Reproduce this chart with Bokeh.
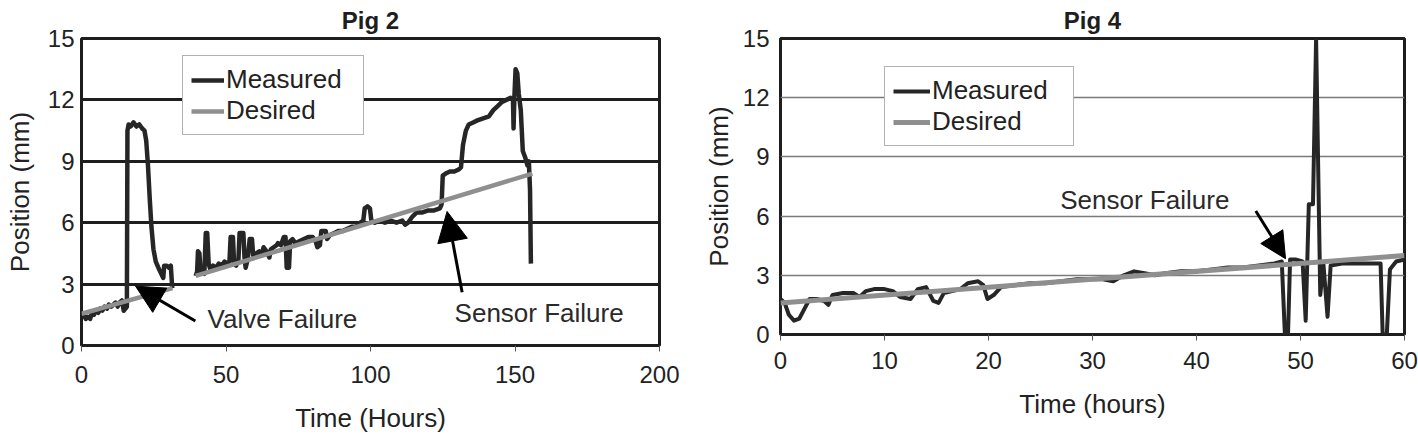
from bokeh.plotting import figure
from bokeh.models import FixedTicker, Legend, LegendItem, Label, Arrow, NormalHead, Title
from bokeh.layouts import row
from bokeh.embed import file_html
from bokeh.resources import INLINE

NAN = float("nan")
FONT = "Liberation Sans"

# ---------------- Pig 2 data ----------------
pig2_title = "Pig 2"
pig2_x_title = "Time (Hours)"
pig2_y_title = "Position (mm)"
pig2_x_ticks = [0, 50, 100, 150, 200]
pig2_y_ticks = [0, 3, 6, 9, 12, 15]

pig2_meas_t = [0, 0.8, 1.5, 2.2, 3, 3.6, 4.3, 5, 5.8, 6.5, 7.2, 8, 8.8, 9.5, 10.3, 11, 11.8, 12.5,
               13.2, 14, 14.6, 15.2, 15.7, 15.9, 16.3, 17, 18, 19, 20, 21, 21.8, 22.4, 23.0, 23.6,
               24.2, 24.9, 25.7, 26.6, 27.6, 28.3, 28.6, 29.5, 30.3, 30.9, 31.4,
               35,
               39.5, 40.0, 40.3, 40.8, 41.2, 42.0, 42.5, 43.0, 43.5, 44.0, 44.6, 45.5, 46.5, 47.5,
               48.5, 49.5, 50.5, 51.2, 51.6, 52.4, 52.8, 53.5, 54.3, 54.7, 56.0, 56.4, 56.8, 57.5,
               58.2, 59.0, 59.4, 60.5, 61.5, 62.3, 63.0, 64.0, 65.0, 65.5, 66.5, 67.5, 68.0, 69.0,
               70.0, 70.6, 71.0, 71.8, 72.2, 73.0, 74.0, 75.5, 77.0, 78.5, 80.0, 81.0, 81.6, 82.5,
               83.0, 84.5, 85.0, 86.0, 87.5, 89.0, 90.5, 92.0, 93.5, 95.0, 96.5, 97.5, 98.0, 99.0,
               99.8, 100.3, 101.5, 103.0, 105.0, 107.0, 109.0, 111.0, 112.0, 113.0, 114.5, 116.0,
               118.0, 120.0, 122.0, 124.0, 124.6, 125.0, 126.0, 127.5, 129.0, 130.5, 131.3, 132.0,
               133.0, 134.0, 135.5, 137.0, 139.0, 141.0, 142.5, 144.0, 145.5, 147.0, 148.5, 149.3,
               149.5, 149.8, 150.2, 150.8, 151.3, 152.0, 152.7, 153.5, 154.3, 154.8, 155.2, 155.5]
pig2_meas_v = [1.6, 1.5, 1.3, 1.4, 1.3, 1.6, 1.5, 1.7, 1.6, 1.8, 1.7, 1.9, 1.8, 2.0, 1.9, 2.0, 2.1, 1.9,
               2.1, 2.2, 1.7, 1.8, 1.9, 10.5, 10.8, 10.7, 10.9, 10.7, 10.8, 10.6, 10.5, 10.0, 8.8, 7.2,
               5.8, 4.7, 4.1, 3.8, 3.5, 3.3, 3.9, 3.9, 3.8, 3.9, 2.8,
               NAN,
               3.4, 3.6, 4.6, 4.5, 3.6, 3.7, 3.5, 5.5, 5.5, 4.0, 3.7, 3.9, 3.8, 4.0,
               3.9, 4.1, 4.0, 4.1, 5.3, 5.3, 4.0, 3.9, 4.2, 5.5, 5.5, 4.3, 3.8, 4.2,
               5.2, 5.2, 4.4, 4.5, 4.6, 4.4, 4.8, 4.6, 4.3, 4.7, 4.8, 4.9, 5.0, 4.9,
               5.3, 5.3, 3.8, 3.8, 5.1, 5.2, 5.0, 5.1, 5.2, 5.3, 5.3, 5.1, 4.8, 4.9,
               5.6, 5.6, 5.2, 5.4, 5.5, 5.6, 5.6, 5.7, 5.8, 5.8, 6.0, 6.1, 6.7, 6.8,
               6.7, 6.1, 6.0, 6.1, 6.0, 6.1, 6.0, 6.1, 5.9, 6.0, 6.3, 6.5,
               6.5, 6.6, 6.6, 6.7, 6.9, 8.3, 8.4, 8.5, 8.5, 8.6, 8.7, 9.8,
               10.5, 10.8, 10.9, 11.0, 11.1, 11.2, 11.5, 11.7, 11.9, 12.0, 12.1, 12.0,
               10.6, 12.2, 13.5, 13.3, 12.3, 11.5, 9.5, 9.2, 8.8, 9.0, 7.6, 4.0]

pig2_des_t = [0, 31.5, NAN, 39.5, 156]
pig2_des_v = [1.55, 2.8, NAN, 3.4, 8.4]

# ---------------- Pig 4 data ----------------
pig4_title = "Pig 4"
pig4_x_title = "Time (hours)"
pig4_y_title = "Position (mm)"
pig4_x_ticks = [0, 10, 20, 30, 40, 50, 60]
pig4_y_ticks = [0, 3, 6, 9, 12, 15]

pig4_meas_t = [0, 0.4, 0.8, 1.3, 1.8, 2.3, 2.8, 3.5, 4.2, 4.6, 5.0, 6.0, 7.0, 7.6, 8.2, 9.0, 10.0,
               10.8, 11.5, 12.5, 13.2, 14.0, 14.7, 15.2, 15.7, 16.5, 17.3, 18.0, 19.0, 19.5, 19.9,
               20.5, 21.2, 22.5, 24.0, 25.5, 27.0, 28.5, 30.0, 31.0, 32.0, 33.0, 34.0, 35.0, 36.0,
               37.0, 38.5, 40.0, 41.5, 43.0, 44.5, 46.0, 47.5, 48.2, 48.5, 48.8, 49.0, 49.5, 50.2,
               50.5, 50.8, 51.2, 51.5, 51.9, 52.2, 52.6, 52.9, 54.0, 55.5, 57.0, 57.7, 57.9, 58.3,
               58.6, 59.2, 60.0]
pig4_meas_v = [1.8, 1.6, 1.0, 0.7, 0.8, 1.3, 1.8, 1.8, 1.7, 1.5, 2.0, 2.1, 2.1, 1.9, 2.2, 2.3, 2.3,
               2.2, 1.9, 1.8, 2.3, 2.4, 1.7, 1.6, 2.1, 2.2, 2.3, 2.6, 2.7, 2.5, 1.8,
               2.0, 2.4, 2.5, 2.6, 2.6, 2.7, 2.8, 2.8, 2.8, 2.7, 3.0, 3.2, 3.1, 3.0,
               3.1, 3.2, 3.2, 3.3, 3.4, 3.4, 3.5, 3.6, 3.7, 0.0, 0.0, 3.8, 3.8, 3.7,
               0.7, 6.6, 6.6, 15.0, 2.0, 3.6, 0.9, 3.5, 3.6, 3.6, 3.6, 3.6, 0.0, 0.0,
               3.3, 3.7, 3.8]

pig4_des_t = [0, 60]
pig4_des_v = [1.6, 4.0]

MEAS_COLOR = "#262626"
DES_COLOR = "#8f8f8f"
TEXT_COLOR = "#222222"


def make_title(text):
    return Title(text=text, align="center", text_font=FONT, text_font_size="24px",
                 text_font_style="bold", text_color="#1e1e1e", standoff=9)


def style(p, grid_color, grid_width, xtitle, ytitle):
    p.background_fill_color = "white"
    p.border_fill_color = "white"
    p.outline_line_color = "#1e1e1e"
    p.outline_line_width = 3
    p.outline_line_alpha = 1.0
    p.xgrid.visible = False
    p.ygrid.grid_line_color = grid_color
    p.ygrid.grid_line_width = grid_width
    for ax in (p.xaxis[0], p.yaxis[0]):
        ax.axis_line_color = None
        ax.minor_tick_line_color = None
        ax.major_label_text_font = FONT
        ax.major_label_text_font_size = "24px"
        ax.major_label_text_color = TEXT_COLOR
        ax.axis_label_text_font = FONT
        ax.axis_label_text_font_size = "26px"
        ax.axis_label_text_font_style = "normal"
        ax.axis_label_text_color = TEXT_COLOR
    p.xaxis[0].axis_label = xtitle
    p.yaxis[0].axis_label = ytitle
    p.xaxis[0].major_tick_in = 0
    p.xaxis[0].major_tick_out = 6
    p.xaxis[0].major_tick_line_color = "#555555"
    p.xaxis[0].major_tick_line_width = 1
    p.yaxis[0].major_tick_in = 0
    p.yaxis[0].major_tick_out = 0
    p.yaxis[0].major_tick_line_color = None


# ---------------- Figure 1: Pig 2 ----------------
p1 = figure(width=700, height=438, x_range=(0, 200), y_range=(0, 15),
            output_backend="svg", toolbar_location=None, title=make_title(pig2_title),
            min_border_left=81, min_border_right=41, min_border_top=36, min_border_bottom=93)
style(p1, "#1e1e1e", 3, pig2_x_title, pig2_y_title)
p1.xaxis[0].ticker = FixedTicker(ticks=pig2_x_ticks)
p1.yaxis[0].ticker = FixedTicker(ticks=pig2_y_ticks)
p1.ygrid[0].ticker = FixedTicker(ticks=pig2_y_ticks)
p1.xaxis[0].major_label_standoff = 14
p1.xaxis[0].axis_label_standoff = 17
p1.yaxis[0].major_label_standoff = 7
p1.yaxis[0].axis_label_standoff = 10

m1 = p1.line(pig2_meas_t, pig2_meas_v, line_color=MEAS_COLOR, line_width=4.5, line_join="round")
d1 = p1.line(pig2_des_t, pig2_des_v, line_color=DES_COLOR, line_width=4.5)

leg1 = Legend(items=[LegendItem(label="Measured", renderers=[m1]),
                     LegendItem(label="Desired", renderers=[d1])],
              location=(101, 210), margin=0, padding=8, spacing=0,
              glyph_width=33, glyph_height=28, label_width=129, label_standoff=2,
              label_text_font=FONT, label_text_font_size="26px", label_text_color=TEXT_COLOR,
              border_line_color="#666666", border_line_width=1,
              background_fill_color="white", background_fill_alpha=1.0)
p1.add_layout(leg1, "center")

p1.add_layout(Label(x=43.6, y=1.3, text="Valve Failure", text_font=FONT, text_font_size="26px",
                    text_color="#2a2a2a", text_baseline="middle", text_align="left"))
p1.add_layout(Label(x=129.1, y=1.6, text="Sensor Failure", text_font=FONT, text_font_size="26px",
                    text_color="#2a2a2a", text_baseline="middle", text_align="left"))
p1.add_layout(Arrow(end=NormalHead(size=28, fill_color="black", line_color="black"),
                    x_start=39.4, y_start=1.2, x_end=18.7, y_end=2.9,
                    line_color="black", line_width=3))
p1.add_layout(Arrow(end=NormalHead(size=30, fill_color="black", line_color="black"),
                    x_start=131.7, y_start=2.6, x_end=126.5, y_end=6.55,
                    line_color="black", line_width=3))

# ---------------- Figure 2: Pig 4 ----------------
p2 = figure(width=718, height=427, x_range=(0, 60), y_range=(0, 15),
            output_backend="svg", toolbar_location=None, title=make_title(pig4_title),
            min_border_left=80, min_border_right=14, min_border_top=37, min_border_bottom=93)
style(p2, "#7a7a7a", 1.3, pig4_x_title, pig4_y_title)
p2.xaxis[0].ticker = FixedTicker(ticks=pig4_x_ticks)
p2.yaxis[0].ticker = FixedTicker(ticks=pig4_y_ticks)
p2.ygrid[0].ticker = FixedTicker(ticks=pig4_y_ticks)
p2.xaxis[0].major_label_standoff = 11
p2.xaxis[0].axis_label_standoff = 17
p2.yaxis[0].major_label_standoff = 11
p2.yaxis[0].axis_label_standoff = 6

m2 = p2.line(pig4_meas_t, pig4_meas_v, line_color=MEAS_COLOR, line_width=4, line_join="round")
d2 = p2.line(pig4_des_t, pig4_des_v, line_color=DES_COLOR, line_width=5)

leg2 = Legend(items=[LegendItem(label="Measured", renderers=[m2]),
                     LegendItem(label="Desired", renderers=[d2])],
              location=(104, 188), margin=0, padding=8, spacing=0,
              glyph_width=37, glyph_height=30, label_width=133, label_standoff=2,
              label_text_font=FONT, label_text_font_size="26px", label_text_color=TEXT_COLOR,
              border_line_color="#666666", border_line_width=1,
              background_fill_color="white", background_fill_alpha=1.0)
p2.add_layout(leg2, "center")

p2.add_layout(Label(x=26.9, y=6.8, text="Sensor Failure", text_font=FONT, text_font_size="26px",
                    text_color="#2a2a2a", text_baseline="middle", text_align="left"))
p2.add_layout(Arrow(end=NormalHead(size=26, fill_color="black", line_color="black"),
                    x_start=45.7, y_start=6.26, x_end=48.56, y_end=3.84,
                    line_color="black", line_width=3))

layout = row(p1, p2)
open("out.html", "w").write(file_html(layout, INLINE))
